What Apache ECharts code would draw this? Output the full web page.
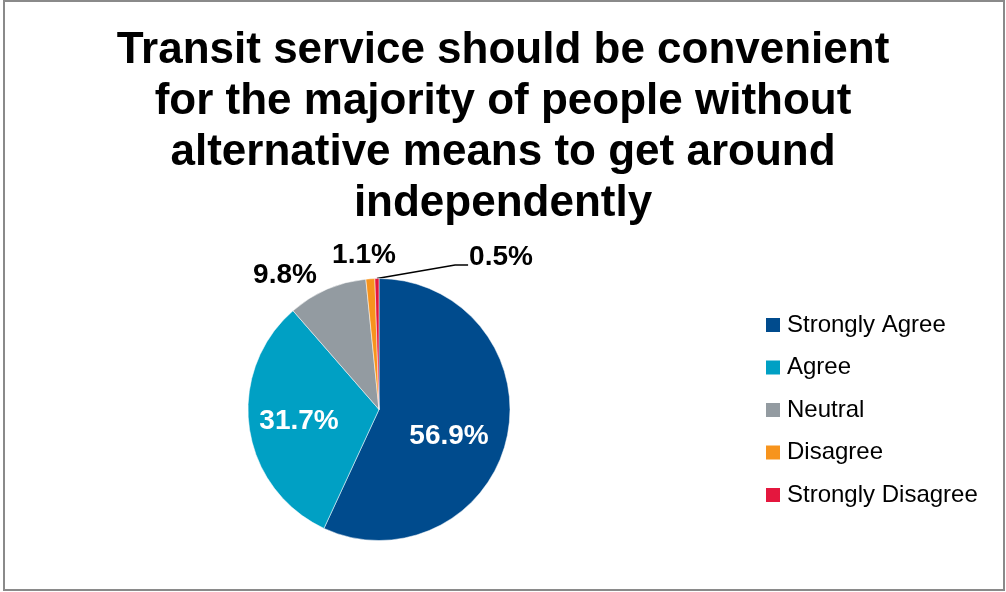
<!DOCTYPE html>
<html>
<head>
<meta charset="utf-8">
<style>
  html, body { margin: 0; padding: 0; background: #fff; }
  #chart { width: 1006px; height: 592px; }
</style>
<script src="https://cdn.jsdelivr.net/npm/echarts@6/dist/echarts.min.js"></script>
</head>
<body>
<div id="chart"></div>
<script>
// Survey responses (percent of respondents)
const categories = ['Strongly Agree', 'Agree', 'Neutral', 'Disagree', 'Strongly Disagree'];
const shares = [56.9, 31.7, 9.8, 1.1, 0.5];
const colors = ['#004B8D', '#00A0C4', '#939BA1', '#F7941D', '#E4173E'];
const titleText = 'Transit service should be convenient\nfor the majority of people without\nalternative means to get around\nindependently';

const FONT = '"Liberation Sans", Arial, sans-serif';
const CENTER = [379, 409.5];
const RADIUS = 131;

// Label anchor points (centre of each percentage label)
const labelSpots = [[449, 436], [299, 421], [285, 275], [364, 255], [501, 257]];
const darkSlices = [0, 1]; // labels drawn in white over the slice

const chart = echarts.init(document.getElementById('chart'), null, { renderer: 'canvas' });

const data = categories.map((name, i) => ({
  name: name,
  value: shares[i],
  itemStyle: { color: colors[i] },
  label: { color: darkSlices.includes(i) ? '#fff' : '#000' },
  labelLine: { show: i === 4, lineStyle: { color: '#000', width: 1.5 } }
}));

chart.setOption({
  animation: false,
  backgroundColor: '#fff',
  title: {
    text: titleText,
    left: 'center',
    top: 20,
    padding: [5, 0, 5, 10],
    textStyle: {
      fontFamily: FONT,
      fontSize: 44,
      fontWeight: 'bold',
      lineHeight: 51,
      color: '#000'
    }
  },
  legend: {
    orient: 'vertical',
    left: 766,
    top: 313,
    padding: 0,
    icon: 'rect',
    itemWidth: 14,
    itemHeight: 14,
    itemGap: 18.5,
    selectedMode: false,
    itemStyle: { borderWidth: 0 },
    textStyle: { fontFamily: FONT, fontSize: 24, lineHeight: 24, color: '#000', padding: [0, 0, 0, 2] },
    data: categories
  },
  graphic: [{
    type: 'rect',
    shape: { x: 4, y: 1, width: 1000, height: 589 },
    style: { fill: 'none', stroke: '#8a8a8a', lineWidth: 2 },
    silent: true
  }],
  series: [{
    type: 'pie',
    center: CENTER,
    radius: RADIUS,
    startAngle: 90,
    clockwise: true,
    avoidLabelOverlap: false,
    itemStyle: { borderColor: '#fff', borderWidth: 0.5 },
    label: {
      show: true,
      position: 'outside',
      fontFamily: FONT,
      fontSize: 28,
      fontWeight: 'bold',
      formatter: p => p.value.toFixed(1) + '%'
    },
    labelLine: { show: false, length: 10, length2: 10 },
    labelLayout: function (p) {
      const s = labelSpots[p.dataIndex];
      const out = { x: s[0], y: s[1], align: 'center', verticalAlign: 'middle' };
      if (p.dataIndex === 4) {
        const start = (p.labelLinePoints && p.labelLinePoints[0]) || [CENTER[0] - 2, CENTER[1] - RADIUS];
        const textLeft = s[0] - p.labelRect.width / 2;
        out.labelLinePoints = [start, [textLeft - 14, s[1] + 8], [textLeft - 1, s[1] + 8]];
      }
      return out;
    },
    emphasis: { disabled: true },
    data: data
  }]
});
</script>
</body>
</html>
